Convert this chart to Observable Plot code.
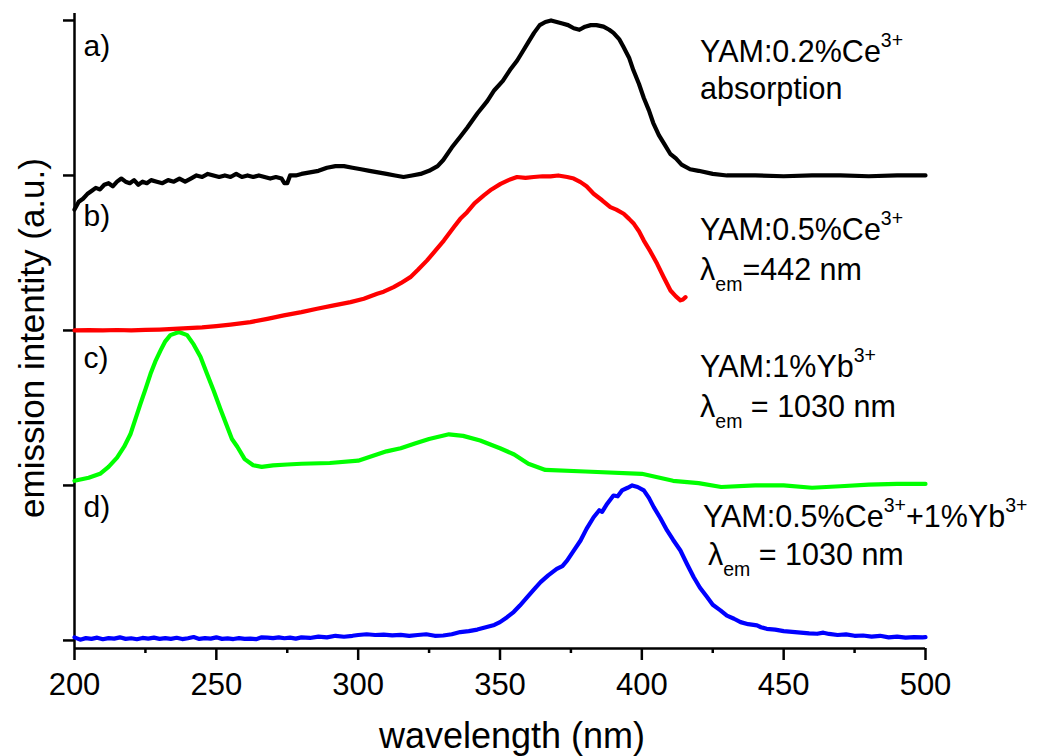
<!DOCTYPE html>
<html>
<head>
<meta charset="utf-8">
<script src="https://cdn.jsdelivr.net/npm/d3@7"></script>
<script src="https://cdn.jsdelivr.net/npm/@observablehq/plot@0.6"></script>
<style>
  html, body { margin: 0; padding: 0; background: #fff; }
  #chart svg { display: block; font-family: "Liberation Sans", Arial, sans-serif; }
</style>
</head>
<body>
<div id="chart"></div>
<script>
// ---- Data (wavelength in nm, stacked intensity in a.u.) ----
const aWave = [200,201.5,203,204.5,206,207.5,209,210.5,212,213.5,215,216.5,218,219.5,221,222.5,224,225.5,227,229,231,233,235,237,239,241,243,245,247,249,251,253,255,257,259,261,263,265,267,269,271,273,274,275,276,278,280,283,286,289,292,295,298,301,304,307,310,313,316,319,322,325,328,330,333,336,338.5,342,345.5,348,351,353.5,356,358,360,362,364,366,368,370,372,374,376,378,380,382,384,386.5,388.5,390,392,393.5,395.5,397,399,400.7,402.5,404,406,408,410,412,414,417,420,425,430,440,450,460,470,480,490,500];
const aVal  = [2.78,2.83,2.85,2.88,2.90,2.92,2.91,2.94,2.95,2.93,2.96,2.98,2.96,2.95,2.97,2.94,2.96,2.95,2.97,2.96,2.95,2.97,2.96,2.98,2.96,2.98,3.00,2.99,3.01,3.00,2.99,3.00,2.99,3.01,2.99,3.00,2.99,3.00,2.99,2.98,2.99,2.98,2.95,2.95,3.00,3.00,3.01,3.02,3.03,3.05,3.06,3.06,3.05,3.04,3.03,3.02,3.01,3.00,2.99,3.00,3.01,3.03,3.06,3.10,3.18,3.25,3.31,3.40,3.48,3.55,3.61,3.68,3.74,3.80,3.86,3.92,3.97,3.99,4.00,3.99,3.98,3.97,3.95,3.94,3.96,3.97,3.97,3.96,3.94,3.92,3.88,3.83,3.76,3.68,3.59,3.50,3.42,3.34,3.26,3.20,3.14,3.11,3.07,3.04,3.03,3.01,3.00,3.00,2.995,3.00,3.00,2.995,3.00,3.00];

const bWave = [200,205,210,215,220,225,230,235,240,245,250,255,262,268,273.8,280,285.5,291,297.3,302,306.7,309,312.5,315,318.4,321,324.3,327,330.2,333.7,336,338.4,341,344.3,347,350.2,353,356,359,361.9,365,367.8,370.5,373.7,376,378.4,380.5,383,386,388.9,391,393.6,395.5,397.2,399,400.7,403,405.4,407.8,410.1,412,413.6,414.5,415.4];
const bVal  = [2.0,2.002,2.0,2.003,2.0,2.004,2.006,2.01,2.015,2.02,2.028,2.038,2.054,2.075,2.097,2.118,2.14,2.16,2.183,2.205,2.237,2.25,2.28,2.305,2.344,2.39,2.452,2.51,2.58,2.666,2.72,2.763,2.82,2.871,2.91,2.946,2.97,2.99,2.985,2.99,2.995,2.994,3.0,2.99,2.98,2.957,2.93,2.882,2.84,2.796,2.78,2.753,2.72,2.688,2.64,2.58,2.51,2.43,2.34,2.258,2.22,2.194,2.2,2.215];

const cWave = [200,205,209,212,215,217.5,219.7,221.5,223.3,225,226.8,228.5,230.3,232,233.8,236.8,239.7,242,244.4,246.5,249.1,251.5,253.8,255.5,257.4,260,263,266,270,275,280,290,300,305,310,315,320,325,332,337,343,350,355,360,366,380,400,411,420,428,440,450,460,470,480,490,500];
const cVal  = [1.03,1.05,1.075,1.12,1.18,1.25,1.33,1.43,1.53,1.62,1.72,1.80,1.87,1.93,1.97,1.99,1.97,1.91,1.83,1.73,1.61,1.49,1.38,1.30,1.25,1.17,1.13,1.12,1.13,1.135,1.14,1.145,1.16,1.19,1.22,1.24,1.27,1.30,1.33,1.32,1.29,1.24,1.20,1.14,1.10,1.09,1.075,1.03,1.015,0.99,1.0,1.0,0.985,0.995,1.005,1.01,1.01];

const dWave = [200,202,204,206,208,210,212,214,216,218,220,222,224,226,228,230,232,234,236,238,240,242,244,246,248,250,252,254,256,258,260,262,264,266,268,270,272,274,276,278,280,283,286,289,292,295,298,300,303,306,309,312,315,318,321,324,327,330,333,336,339,342,345,348,350,352.5,354.8,357,359.6,362,364.3,367,370,372,373.7,376,378.4,380.5,383,385,386,387.8,390,391.5,393,395,396.6,398.5,400.7,402.5,404.2,406.5,408.9,411,413.6,416,418.3,420.5,423,425,427.7,430,432.5,434.8,437.5,440.6,442,444,447,450,453,456,459,461.8,464,466,469,472,475,478,481,484,487,490,493,496,499,500];
const dVal  = [0.02,0.005,0.015,0.01,0.018,0.008,0.015,0.012,0.02,0.01,0.014,0.008,0.016,0.012,0.018,0.01,0.015,0.01,0.017,0.009,0.014,0.022,0.01,0.015,0.012,0.02,0.01,0.013,0.009,0.015,0.01,0.012,0.008,0.02,0.018,0.015,0.02,0.014,0.018,0.012,0.02,0.016,0.025,0.02,0.03,0.024,0.03,0.035,0.04,0.035,0.038,0.033,0.036,0.03,0.035,0.04,0.03,0.032,0.04,0.054,0.06,0.07,0.085,0.1,0.118,0.15,0.183,0.225,0.28,0.33,0.376,0.42,0.462,0.48,0.516,0.58,0.645,0.72,0.795,0.84,0.83,0.882,0.935,0.93,0.968,0.985,1.0,0.99,0.968,0.92,0.86,0.79,0.71,0.65,0.58,0.49,0.408,0.34,0.28,0.23,0.194,0.16,0.14,0.118,0.105,0.097,0.085,0.075,0.07,0.06,0.055,0.05,0.045,0.043,0.05,0.042,0.035,0.039,0.03,0.032,0.025,0.03,0.02,0.025,0.018,0.022,0.02,0.021];

const seriesColors = ["#000000", "#ff0000", "#00ff00", "#0000ff"];

const xMajorTicks = [200, 250, 300, 350, 400, 450, 500];
const xMinorTicks = [225, 275, 325, 375, 425, 475];
const yTicks = [0, 1, 2, 3, 4];

const xTitle = "wavelength (nm)";
const yTitle = "emission intentity (a.u.)";

// panel letters
const panelText = ["a)", "b)", "c)", "d)"];
const panelNm   = [203.2, 203.2, 203.2, 203.2];
const panelY    = [3.774, 2.671, 1.761, 0.794];

// curve labels: parts [kind, text]
const labelParts = [
  [["", "YAM:0.2%Ce"], ["sup", "3+"]],
  [["", "absorption"]],
  [["", "YAM:0.5%Ce"], ["sup", "3+"]],
  [["", "\u03BB"], ["sub", "em"], ["", "=442 nm"]],
  [["", "YAM:1%Yb"], ["sup", "3+"]],
  [["", "\u03BB"], ["sub", "em"], ["", " = 1030 nm"]],
  [["", "YAM:0.5%Ce"], ["sup", "3+"], ["", "+1%Yb"], ["sup", "3+"]],
  [["", "\u03BB"], ["sub", "em"], ["", " = 1030 nm"]]
];
const labelNm = [420.7, 420.7, 420.7, 420.7, 420.7, 420.7, 421.7, 423.5];
const labelY  = [3.729, 3.490, 2.581, 2.323, 1.697, 1.439, 0.729, 0.484];

// ---- Build tables ----
const toRows = (w, v) => w.map((x, i) => ({x, y: v[i]}));
const A = toRows(aWave, aVal), B = toRows(bWave, bVal), C = toRows(cWave, cVal), D = toRows(dWave, dVal);

const yDomain = [-0.052, 4.045];
const lineOpts = {x: "x", y: "y", strokeWidth: 4.2, strokeLinejoin: "round", strokeLinecap: "round"};

const svg = Plot.plot({
  width: 1043,
  height: 756,
  marginLeft: 74,
  marginRight: 118,
  marginTop: 13,
  marginBottom: 108,
  style: {fontFamily: "Liberation Sans, Arial, sans-serif", background: "#fff", overflow: "visible"},
  x: {domain: [200, 500]},
  y: {domain: yDomain},
  marks: [
    Plot.axisX({ticks: xMinorTicks, tickSize: 5, text: null, strokeWidth: 2.5, label: null}),
    Plot.axisX({ticks: xMajorTicks, tickSize: 12, tickPadding: 12, strokeWidth: 2.5, fontSize: 31, label: null, tickFormat: d3.format("d")}),
    Plot.axisY({ticks: yTicks, tickSize: 11, text: null, strokeWidth: 2.5, label: null}),
    Plot.ruleX([200], {strokeWidth: 2.5}),
    Plot.ruleY([yDomain[0]], {strokeWidth: 2.5}),
    Plot.line(A, {...lineOpts, stroke: seriesColors[0]}),
    Plot.line(C, {...lineOpts, stroke: seriesColors[2]}),
    Plot.line(B, {...lineOpts, stroke: seriesColors[1]}),
    Plot.line(D, {...lineOpts, stroke: seriesColors[3]}),
    Plot.text(panelText, {x: (d, i) => panelNm[i], y: (d, i) => panelY[i], text: d => d, textAnchor: "start", lineAnchor: "bottom", fontSize: 30, fill: "#000"})
  ]
});

// Rich-text labels placed through the plot's scales
const xs = svg.scale("x"), ys = svg.scale("y");
const sel = d3.select(svg);
const g = sel.append("g")
  .attr("font-family", "Liberation Sans, Arial, sans-serif")
  .attr("fill", "#000")
  .attr("text-anchor", "start");
labelParts.forEach((parts, i) => {
  const t = g.append("text")
    .attr("x", xs.apply(labelNm[i]))
    .attr("y", ys.apply(labelY[i]))
    .attr("text-anchor", "start")
    .attr("font-size", 30.5);
  let shift = 0;
  parts.forEach(([kind, str]) => {
    const target = kind === "sup" ? -15 : kind === "sub" ? 11 : 0;
    const ts = t.append("tspan").attr("dy", target - shift).text(str);
    if (kind) ts.attr("font-size", 19.5);
    shift = target;
  });
});

// axis titles
g.append("text")
  .attr("x", 512).attr("y", 748)
  .attr("text-anchor", "middle").attr("font-size", 36)
  .text(xTitle);
g.append("text")
  .attr("transform", "translate(44,338) rotate(-90)")
  .attr("text-anchor", "middle").attr("font-size", 35)
  .text(yTitle);

document.getElementById("chart").appendChild(svg);
</script>
</body>
</html>
